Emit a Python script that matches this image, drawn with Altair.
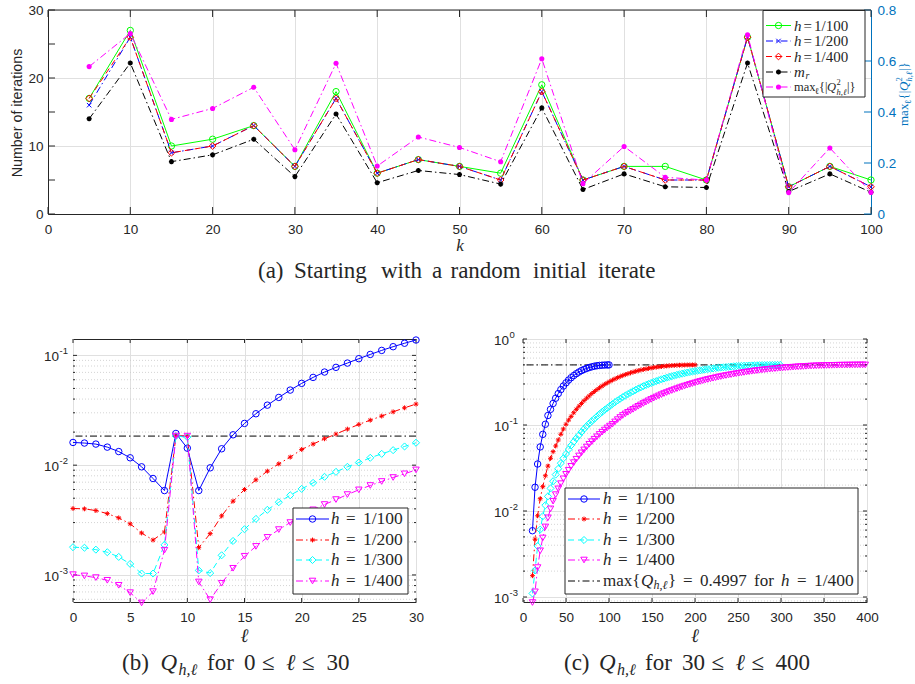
import altair as alt
import pandas as pd

# ------------------------------------------------------------------ (a) iterations vs k
k_values = [5, 10, 15, 20, 25, 30, 35, 40, 45, 50,
            55, 60, 65, 70, 75, 80, 85, 90, 95, 100]
iters_h100 = [17, 27, 10, 11, 13, 7, 18, 6, 8, 7, 6, 19, 5, 7, 7, 5, 26, 4, 7, 5]
iters_h200 = [16, 26, 9, 10, 13, 7, 17, 6, 8, 7, 5, 18, 5, 7, 5, 5, 26, 4, 7, 4]
iters_h400 = [17, 26, 9, 10, 13, 7, 17, 6, 8, 7, 5, 18, 5, 7, 5, 5, 26, 4, 7, 4]
iters_mr = [14.0, 22.2, 7.7, 8.7, 11.0, 5.5, 14.7, 4.6, 6.4, 5.8,
            4.4, 15.6, 3.6, 5.9, 4.0, 3.9, 22.2, 3.3, 5.9, 3.2]
max_q2 = [0.578, 0.708, 0.371, 0.414, 0.497, 0.252, 0.591, 0.188, 0.302, 0.261,
          0.205, 0.609, 0.119, 0.265, 0.144, 0.133, 0.703, 0.084, 0.259, 0.085]

# ------------------------------------------------------------------ (b) Q_{h,l}, 0 <= l <= 30
ell_b = list(range(0, 31))
qb_h100 = [0.0161, 0.0159, 0.01556, 0.0146, 0.0133, 0.01167, 0.00966, 0.00756, 0.00587, 0.01945,
           0.01429, 0.00587, 0.00946, 0.0141, 0.0189, 0.0240, 0.0294, 0.0352, 0.0414, 0.0483,
           0.0556, 0.0630, 0.0705, 0.0778, 0.0851, 0.0933, 0.102, 0.111, 0.120, 0.129, 0.138]
qb_h200 = [0.00403, 0.00400, 0.00386, 0.00362, 0.00331, 0.00292, 0.00241, 0.00208, 0.00246, 0.0184,
           0.0184, 0.00177, 0.00238, 0.00345, 0.00470, 0.0060, 0.00735, 0.00882, 0.01028, 0.01184,
           0.0139, 0.01556, 0.0174, 0.0192, 0.0213, 0.0235, 0.0257, 0.0280, 0.0306, 0.0333, 0.0360]
qb_h300 = [0.00179, 0.00177, 0.00170, 0.00161, 0.00146, 0.00126, 0.00103, 0.00103, 0.00188, 0.0184,
           0.0180, 0.00110, 0.00104, 0.00151, 0.00204, 0.00261, 0.00324, 0.00392, 0.00460, 0.00532,
           0.00608, 0.00690, 0.00783, 0.00869, 0.00966, 0.01057, 0.01167, 0.01268, 0.0137, 0.0148, 0.0160]
qb_h400 = [0.001006, 0.00098, 0.000946, 0.000894, 0.000805, 0.00069, 0.000556, 0.000705, 0.00168, 0.0184,
           0.0184, 0.000863, 0.000596, 0.00084, 0.00115, 0.00148, 0.00182, 0.00220, 0.00259, 0.00300,
           0.00345, 0.00392, 0.00438, 0.00486, 0.00540, 0.00596, 0.00653, 0.00710, 0.00772, 0.00834, 0.00906]
qb_level = 0.0184

# ------------------------------------------------------------------ (c) Q_{h,l} up to l = 1/h
ell_c_h100 = list(range(11, 99, 3)) + [100]
qc_h100 = [0.0059, 0.0189, 0.0352, 0.0556, 0.0778, 0.102, 0.129, 0.152, 0.178, 0.205,
           0.232, 0.258, 0.284, 0.309, 0.333, 0.355, 0.376, 0.395, 0.413, 0.429,
           0.443, 0.455, 0.466, 0.475, 0.483, 0.489, 0.493, 0.496, 0.498, 0.4995,
           0.4997]
ell_c_h200 = list(range(11, 200, 3)) + [200]
qc_h200 = [0.00177, 0.0047, 0.0088, 0.0139, 0.0192, 0.0257, 0.0333, 0.041, 0.049, 0.057,
           0.067, 0.078, 0.090, 0.102, 0.114, 0.126, 0.139, 0.152, 0.165, 0.178,
           0.192, 0.205, 0.218, 0.232, 0.245, 0.258, 0.271, 0.284, 0.297, 0.309,
           0.321, 0.333, 0.344, 0.355, 0.366, 0.376, 0.386, 0.395, 0.404, 0.413,
           0.421, 0.429, 0.436, 0.443, 0.449, 0.455, 0.461, 0.466, 0.471, 0.475,
           0.479, 0.483, 0.486, 0.489, 0.491, 0.493, 0.495, 0.496, 0.497, 0.498,
           0.499, 0.4995, 0.4997, 0.4997]
ell_c_h300 = list(range(11, 300, 3))
qc_h300 = [0.0011, 0.00204, 0.00392, 0.00608, 0.00869, 0.01167, 0.0148, 0.0183, 0.0222, 0.0265,
           0.031, 0.036, 0.041, 0.046, 0.052, 0.058, 0.064, 0.070, 0.076, 0.083,
           0.090, 0.097, 0.104, 0.111, 0.118, 0.126, 0.134, 0.142, 0.150, 0.158,
           0.166, 0.175, 0.184, 0.193, 0.202, 0.211, 0.220, 0.229, 0.238, 0.247,
           0.256, 0.265, 0.274, 0.283, 0.292, 0.300, 0.308, 0.316, 0.324, 0.332,
           0.340, 0.347, 0.355, 0.362, 0.369, 0.376, 0.383, 0.389, 0.395, 0.401,
           0.407, 0.413, 0.418, 0.423, 0.428, 0.433, 0.438, 0.443, 0.447, 0.451,
           0.455, 0.459, 0.463, 0.466, 0.469, 0.472, 0.475, 0.478, 0.481, 0.483,
           0.485, 0.487, 0.489, 0.490, 0.492, 0.493, 0.494, 0.495, 0.496, 0.497,
           0.4975, 0.498, 0.4985, 0.499, 0.4993, 0.4995, 0.4997]
ell_c_h400 = list(range(11, 400, 3))
qc_h400 = [0.000863, 0.00115, 0.0022, 0.00345, 0.00486, 0.00653, 0.00834, 0.0106, 0.0130, 0.0155,
           0.0181, 0.0208, 0.0237, 0.0267, 0.0298, 0.0331, 0.0365, 0.0400, 0.0437, 0.0475,
           0.0514, 0.0555, 0.0597, 0.0640, 0.0684, 0.0730, 0.0777, 0.0825, 0.0874, 0.0924,
           0.0972, 0.1020, 0.1087, 0.1155, 0.1222, 0.1290, 0.1347, 0.1405, 0.1462, 0.1520,
           0.1585, 0.1650, 0.1715, 0.1780, 0.1848, 0.1915, 0.1983, 0.2050, 0.2118, 0.2185,
           0.2253, 0.2320, 0.2385, 0.2450, 0.2515, 0.2580, 0.2645, 0.2710, 0.2775, 0.2840,
           0.2903, 0.2965, 0.3028, 0.3090, 0.3150, 0.3210, 0.3270, 0.3330, 0.3385, 0.3440,
           0.3495, 0.3550, 0.3603, 0.3655, 0.3708, 0.3760, 0.3808, 0.3855, 0.3903, 0.3950,
           0.3995, 0.4040, 0.4085, 0.4130, 0.4170, 0.4210, 0.4250, 0.4290, 0.4325, 0.4360,
           0.4395, 0.4430, 0.4460, 0.4490, 0.4520, 0.4550, 0.4578, 0.4605, 0.4633, 0.4660,
           0.4683, 0.4705, 0.4728, 0.4750, 0.4770, 0.4790, 0.4810, 0.4830, 0.4845, 0.4860,
           0.4875, 0.4890, 0.4900, 0.4910, 0.4920, 0.4930, 0.4938, 0.4945, 0.4953, 0.4960,
           0.4965, 0.4970, 0.4975, 0.4980, 0.4984, 0.4988, 0.4991, 0.4995, 0.4996, 0.4997]
qc_level = 0.4997

# ------------------------------------------------------------------ ticks and grids
k_ticks = [0, 10, 20, 30, 40, 50, 60, 70, 80, 90, 100]
iter_ticks = [0, 5, 10, 15, 20, 25, 30]
q2_ticks = [0, 0.2, 0.4, 0.6, 0.8]
ell_b_ticks = [0, 5, 10, 15, 20, 25, 30]
ell_c_ticks = [0, 50, 100, 150, 200, 250, 300, 350, 400]
decades_b = [0.001, 0.01, 0.1]
exps_b = ["-3", "-2", "-1"]
decades_c = [0.001, 0.01, 0.1, 1.0]
exps_c = ["-3", "-2", "-1", "0"]
minor_b = [0.0006, 0.0007, 0.0008, 0.0009,
           0.002, 0.003, 0.004, 0.005, 0.006, 0.007, 0.008, 0.009,
           0.02, 0.03, 0.04, 0.05, 0.06, 0.07, 0.08, 0.09]
minor_c = [0.0009,
           0.002, 0.003, 0.004, 0.005, 0.006, 0.007, 0.008, 0.009,
           0.02, 0.03, 0.04, 0.05, 0.06, 0.07, 0.08, 0.09,
           0.2, 0.3, 0.4, 0.5, 0.6, 0.7, 0.8, 0.9]

# ------------------------------------------------------------------ styling
INK = "#262626"
GRID = "#E0E0E0"
MINOR = "#C9C9C9"
AXBLUE = "#0072BD"
SANS = "Liberation Sans"
SERIF = "Liberation Serif"
DASHED = [6, 4]
DASHDOT = [7, 3, 1.5, 3]
XMARK = "M-1,-1L1,1M-1,1L1,-1"
STAR = "M-1,0L1,0M0,-1L0,1M-0.7,-0.7L0.7,0.7M-0.7,0.7L0.7,-0.7"

STYLE_A = {
    "h100": dict(color="#00FF00", dash=None, shape="circle", filled=False, size=40),
    "h200": dict(color="#0000FF", dash=DASHDOT, shape=XMARK, filled=False, size=20),
    "h400": dict(color="#FF0000", dash=DASHED, shape="diamond", filled=False, size=45),
    "mr": dict(color="#000000", dash=DASHDOT, shape=STAR, filled=False, size=26, sw=1.5),
    "q2": dict(color="#FF00FF", dash=DASHDOT, shape="circle", filled=True, size=26),
}
STYLE_Q = {
    "h100": dict(color="#0000FF", dash=None, shape="circle", filled=False, size=42),
    "h200": dict(color="#FF0000", dash=DASHDOT, shape=STAR, filled=False, size=24),
    "h300": dict(color="#00FFFF", dash=DASHED, shape="diamond", filled=False, size=50),
    "h400": dict(color="#FF00FF", dash=DASHDOT, shape="triangle-down", filled=False, size=42),
}

ONE = pd.DataFrame({"o": [0]})

W_A, H_A = 823, 204
W_B, H_B = 343, 263
W_C, H_C = 344, 263


def line_props(st):
    p = dict(color=st["color"], strokeWidth=1)
    if st["dash"]:
        p["strokeDash"] = st["dash"]
    return p


def point_props(st):
    return dict(shape=st["shape"], filled=st["filled"], size=st["size"], color=st["color"],
                strokeWidth=st.get("sw", 1.0), opacity=1)


def text(s, x, y, size, italic=False, color=INK, align="left", baseline="middle",
         font=SERIF, angle=0):
    p = dict(text=s, align=align, baseline=baseline, font=font, fontSize=size, color=color)
    if italic:
        p["fontStyle"] = "italic"
    if angle:
        p["angle"] = angle
    return alt.Chart(ONE).mark_text(**p).encode(x=alt.value(x), y=alt.value(y))


def seg(x0, x1, y, color, dash=None, width=1.0):
    p = dict(color=color, strokeWidth=width)
    if dash:
        p["strokeDash"] = dash
    return alt.Chart(ONE).mark_rule(**p).encode(x=alt.value(x0), x2=alt.value(x1), y=alt.value(y))


def frame(x0, x1, y0, y1):
    return alt.Chart(ONE).mark_rect(fill="white", stroke=INK, strokeWidth=1).encode(
        x=alt.value(x0), x2=alt.value(x1), y=alt.value(y0), y2=alt.value(y1))


def legend_key(x0, x1, y, st):
    key_line = seg(x0, x1, y, st["color"], st["dash"])
    key_mark = alt.Chart(ONE).mark_point(**point_props(st)).encode(
        x=alt.value((x0 + x1) / 2), y=alt.value(y))
    return [key_line, key_mark]


def enc_x(field, sc, axis=None):
    return alt.X(f"{field}:Q", scale=sc, axis=axis) if axis is not None else alt.X(f"{field}:Q", scale=sc)


def enc_y(field, sc, axis=None):
    return alt.Y(f"{field}:Q", scale=sc, axis=axis) if axis is not None else alt.Y(f"{field}:Q", scale=sc)


def series(df, xf, yf, st, xsc, ysc, xaxis=None, yaxis=None):
    ln = alt.Chart(df).mark_line(**line_props(st)).encode(
        x=enc_x(xf, xsc, xaxis), y=enc_y(yf, ysc, yaxis))
    pt = alt.Chart(df).mark_point(**point_props(st)).encode(
        x=enc_x(xf, xsc), y=enc_y(yf, ysc))
    return [ln, pt]


def x_ticks(values, xsc, h, length):
    df = pd.DataFrame({"t": values})
    lower = alt.Chart(df).mark_rule(color=INK, strokeWidth=1).encode(
        x=enc_x("t", xsc), y=alt.value(h), y2=alt.value(h - length))
    upper = alt.Chart(df).mark_rule(color=INK, strokeWidth=1).encode(
        x=enc_x("t", xsc), y=alt.value(0), y2=alt.value(length))
    return [lower, upper]


def y_ticks(values, ysc, w, length, color=INK, left=True, right=True):
    df = pd.DataFrame({"t": values})
    out = []
    if left:
        out.append(alt.Chart(df).mark_rule(color=color, strokeWidth=1).encode(
            y=enc_y("t", ysc), x=alt.value(0), x2=alt.value(length)))
    if right:
        out.append(alt.Chart(df).mark_rule(color=color, strokeWidth=1).encode(
            y=enc_y("t", ysc), x=alt.value(w - length), x2=alt.value(w)))
    return out


def axis_lin(values, pad, orient=None, color=INK, grid=True, domain=True, fmt=None):
    p = dict(values=values, grid=grid, gridColor=GRID, gridWidth=1, ticks=False, tickSize=0,
             labelFont=SANS, labelFontSize=13.5, labelColor=color, labelPadding=pad,
             labelFlush=False, labelOverlap=False, title="", domain=domain)
    if domain:
        p["domainColor"] = color
        p["domainWidth"] = 1
    if orient:
        p["orient"] = orient
    if fmt:
        p["format"] = fmt
    return alt.Axis(**p)


def log_axis(values):
    return alt.Axis(values=values, grid=True, gridColor=GRID, gridWidth=1, ticks=False,
                    tickSize=0, labels=False, domain=False, title="")


def log_labels(values, exps, ysc):
    df = pd.DataFrame({"v": values, "e": exps})
    base = alt.Chart(df).mark_text(text="10", align="right", baseline="middle", font=SANS,
                                   fontSize=13.5, color=INK, dy=2).encode(x=alt.value(-14), y=enc_y("v", ysc))
    sup = alt.Chart(df).mark_text(align="left", baseline="middle", font=SANS, fontSize=9.5,
                                  color=INK, dy=-4).encode(x=alt.value(-13.5), y=enc_y("v", ysc), text="e:N")
    return [base, sup]


# ================================================================== panel (a)
dfa = pd.DataFrame({"k": k_values, "h100": iters_h100, "h200": iters_h200,
                    "h400": iters_h400, "mr": iters_mr, "q2": max_q2})
xs_a = alt.Scale(domain=[0, 100], nice=False)
ys_a = alt.Scale(domain=[0, 30], nice=False)
ys_q = alt.Scale(domain=[0, 0.8], nice=False)

left_group = alt.layer(
    *x_ticks(k_ticks, xs_a, H_A, 7),
    *y_ticks(iter_ticks, ys_a, W_A, 7, right=False),
    *series(dfa, "k", "h100", STYLE_A["h100"], xs_a, ys_a, axis_lin(k_ticks, 8), axis_lin(iter_ticks, 5)),
    *series(dfa, "k", "h200", STYLE_A["h200"], xs_a, ys_a),
    *series(dfa, "k", "h400", STYLE_A["h400"], xs_a, ys_a),
    *series(dfa, "k", "mr", STYLE_A["mr"], xs_a, ys_a),
)
right_group = alt.layer(
    *y_ticks(q2_ticks, ys_q, W_A, 7, color=AXBLUE, left=False),
    *series(dfa, "k", "q2", STYLE_A["q2"], xs_a, ys_q, None,
            axis_lin(q2_ticks, 6, orient="right", color=AXBLUE, grid=False, fmt="~g")),
)

legend_a = [frame(715, 817, 0.5, 87)]
rows_a = [15.5, 31, 46.5, 62, 77]
for row, key in zip(rows_a, ["h100", "h200", "h400", "mr", "q2"]):
    legend_a += legend_key(718, 743, row, STYLE_A[key])
for row, frac in zip(rows_a[:3], ["1/100", "1/200", "1/400"]):
    legend_a += [text("h", 746, row, 15, italic=True), text("=", 755.5, row, 15),
                 text(frac, 766, row, 15)]
legend_a += [text("m", 746, rows_a[3], 15, italic=True), text("r", 757.5, rows_a[3] + 3.5, 10, italic=True)]
r5a = rows_a[4]
legend_a += [text("max", 746, r5a, 12.5), text("ℓ", 767, r5a + 3.5, 9),
             text("{|", 771, r5a, 12.5), text("Q", 779, r5a, 12.5, italic=True),
             text("2", 788.5, r5a - 5, 8.5), text("h,ℓ", 788.5, r5a + 4.5, 8.5, italic=True),
             text("|}", 799, r5a, 12.5)]

titles_a = [
    text("Number of iterations", -30.5, 103, 14.3, font=SANS, align="center", angle=270),
    text("k", 412, 241, 17, italic=True, align="center", baseline="alphabetic"),
    # right axis title, read from bottom to top
    text("max", 856, 116, 13, color=AXBLUE, angle=270),
    text("ℓ", 860, 94, 9, color=AXBLUE, angle=270),
    text("{|", 856, 89.5, 13, color=AXBLUE, angle=270),
    text("Q", 856, 81, 13, italic=True, color=AXBLUE, angle=270),
    text("2", 851, 71.5, 8.5, color=AXBLUE, angle=270),
    text("h,ℓ", 861, 71.5, 8.5, italic=True, color=AXBLUE, angle=270),
    text("|}", 856, 61, 13, color=AXBLUE, angle=270),
]
caption_a = [text(w, x, 267.5, 23, baseline="alphabetic") for w, x in zip(
    ["(a)", "Starting", "with", "a", "random", "initial", "iterate"],
    [210, 246, 333, 384, 402.5, 485, 550])]

panel_a = alt.layer(
    left_group, right_group,
    seg(0, W_A, 0, INK),
    *legend_a, *titles_a, *caption_a,
    seg(-47, -46, -9, "white"),
).resolve_scale(y="independent").properties(width=W_A, height=H_A)

# ================================================================== panel (b)
dfb = pd.DataFrame({"l": ell_b, "h100": qb_h100, "h200": qb_h200, "h300": qb_h300, "h400": qb_h400})
xs_b = alt.Scale(domain=[0, 30], nice=False)
ys_b = alt.Scale(type="log", domain=[0.000567, 0.141], nice=False)

minor_grid_b = alt.Chart(pd.DataFrame({"m": minor_b})).mark_rule(
    color=MINOR, strokeWidth=0.8, strokeDash=[1, 2]).encode(y=enc_y("m", ys_b))
level_b = alt.Chart(pd.DataFrame({"q": [qb_level]})).mark_rule(
    color="#000000", strokeWidth=1, strokeDash=DASHDOT).encode(y=enc_y("q", ys_b))

legend_b = [frame(220, 335, 169, 255)]
rows_b = [180, 201, 221, 242]
for row, key, frac in zip(rows_b, ["h100", "h200", "h300", "h400"], ["1/100", "1/200", "1/300", "1/400"]):
    legend_b += legend_key(223, 256, row, STYLE_Q[key])
    legend_b += [text("h", 258, row, 17, italic=True), text("=", 273, row, 17), text(frac, 290, row, 17.5)]

caption_b = [
    text("(b)", 49, 331, 23, baseline="alphabetic"),
    text("Q", 87.5, 331, 23, italic=True, baseline="alphabetic"),
    text("h,ℓ", 105.5, 336, 16, italic=True, baseline="alphabetic"),
    text("for", 134, 331, 23, baseline="alphabetic"),
    text("0", 171, 331, 23, baseline="alphabetic"),
    text("≤", 189, 331, 23, baseline="alphabetic"),
    text("ℓ", 213, 331, 23, italic=True, baseline="alphabetic"),
    text("≤", 229, 331, 23, baseline="alphabetic"),
    text("30", 253.5, 331, 23, baseline="alphabetic"),
]

panel_b = alt.layer(
    minor_grid_b,
    *x_ticks(ell_b_ticks, xs_b, H_B, 4),
    *y_ticks(decades_b, ys_b, W_B, 4),
    *y_ticks(minor_b, ys_b, W_B, 2),
    level_b,
    *series(dfb, "l", "h100", STYLE_Q["h100"], xs_b, ys_b, axis_lin(ell_b_ticks, 8, domain=False), log_axis(decades_b)),
    *series(dfb, "l", "h200", STYLE_Q["h200"], xs_b, ys_b),
    *series(dfb, "l", "h300", STYLE_Q["h300"], xs_b, ys_b),
    *series(dfb, "l", "h400", STYLE_Q["h400"], xs_b, ys_b),
    *legend_b,
    *log_labels(decades_b, exps_b, ys_b),
    text("ℓ", 171.5, 302.5, 19, italic=True, align="center", baseline="alphabetic"),
    *caption_b,
).properties(width=W_B, height=H_B, view=alt.ViewBackground(stroke=INK, strokeWidth=1))

# ================================================================== panel (c)
dfc1 = pd.DataFrame({"l": ell_c_h100, "q": qc_h100})
dfc2 = pd.DataFrame({"l": ell_c_h200, "q": qc_h200})
dfc3 = pd.DataFrame({"l": ell_c_h300, "q": qc_h300})
dfc4 = pd.DataFrame({"l": ell_c_h400, "q": qc_h400})
xs_c = alt.Scale(domain=[0, 400], nice=False)
ys_c = alt.Scale(type="log", domain=[0.000875, 1.0], nice=False)

minor_grid_c = alt.Chart(pd.DataFrame({"m": minor_c})).mark_rule(
    color=MINOR, strokeWidth=0.8, strokeDash=[1, 2]).encode(y=enc_y("m", ys_c))
level_c = alt.Chart(pd.DataFrame({"q": [qc_level]})).mark_rule(
    color="#000000", strokeWidth=1, strokeDash=DASHDOT).encode(y=enc_y("q", ys_c))

legend_c = [frame(42, 335, 149, 255)]
rows_c = [160, 180, 201, 221, 242]
for row, key, frac in zip(rows_c, ["h100", "h200", "h300", "h400"], ["1/100", "1/200", "1/300", "1/400"]):
    legend_c += legend_key(45, 77, row, STYLE_Q[key])
    legend_c += [text("h", 80, row, 17, italic=True), text("=", 95, row, 17), text(frac, 112, row, 17.5)]
legend_c += [seg(45, 77, rows_c[4], "#000000", DASHDOT)]
r5 = rows_c[4]
legend_c += [text("max{", 80, r5, 17), text("Q", 118, r5, 17, italic=True),
             text("h,ℓ", 130.5, r5 + 4, 12, italic=True), text("}", 145, r5, 17),
             text("=", 160, r5, 17), text("0.4997", 177, r5, 17), text("for", 231, r5, 17),
             text("h", 258, r5, 17, italic=True), text("=", 274, r5, 17), text("1/400", 291, r5, 17.5)]

caption_c = [
    text("(c)", 41, 331, 23, baseline="alphabetic"),
    text("Q", 76, 331, 23, italic=True, baseline="alphabetic"),
    text("h,ℓ", 94, 336, 16, italic=True, baseline="alphabetic"),
    text("for", 122, 331, 23, baseline="alphabetic"),
    text("30", 159, 331, 23, baseline="alphabetic"),
    text("≤", 188.5, 331, 23, baseline="alphabetic"),
    text("ℓ", 212.5, 331, 23, italic=True, baseline="alphabetic"),
    text("≤", 228.5, 331, 23, baseline="alphabetic"),
    text("400", 252.5, 331, 23, baseline="alphabetic"),
]

panel_c = alt.layer(
    minor_grid_c,
    *x_ticks(ell_c_ticks, xs_c, H_C, 4),
    *y_ticks(decades_c, ys_c, W_C, 4),
    *y_ticks(minor_c, ys_c, W_C, 2),
    level_c,
    *series(dfc1, "l", "q", STYLE_Q["h100"], xs_c, ys_c, axis_lin(ell_c_ticks, 8, domain=False), log_axis(decades_c)),
    *series(dfc2, "l", "q", STYLE_Q["h200"], xs_c, ys_c),
    *series(dfc3, "l", "q", STYLE_Q["h300"], xs_c, ys_c),
    *series(dfc4, "l", "q", STYLE_Q["h400"], xs_c, ys_c),
    *legend_c,
    *log_labels(decades_c, exps_c, ys_c),
    text("ℓ", 172, 302.5, 19, italic=True, align="center", baseline="alphabetic"),
    *caption_c,
).properties(width=W_C, height=H_C, view=alt.ViewBackground(stroke=INK, strokeWidth=1))


def spacer(w, h):
    return alt.Chart(ONE).mark_point(opacity=0).encode(
        x=alt.value(0), y=alt.value(0)).properties(width=w, height=h)


bottom_row = alt.hconcat(spacer(25, H_B), panel_b, spacer(107, H_B), panel_c,
                         spacing=0, bounds="flush")
chart = alt.vconcat(panel_a, bottom_row, spacing=125, bounds="flush").properties(
    padding=0, background="white").configure_view(stroke="transparent")

chart.save("out.html", embed_options={"renderer": "svg", "actions": False})
